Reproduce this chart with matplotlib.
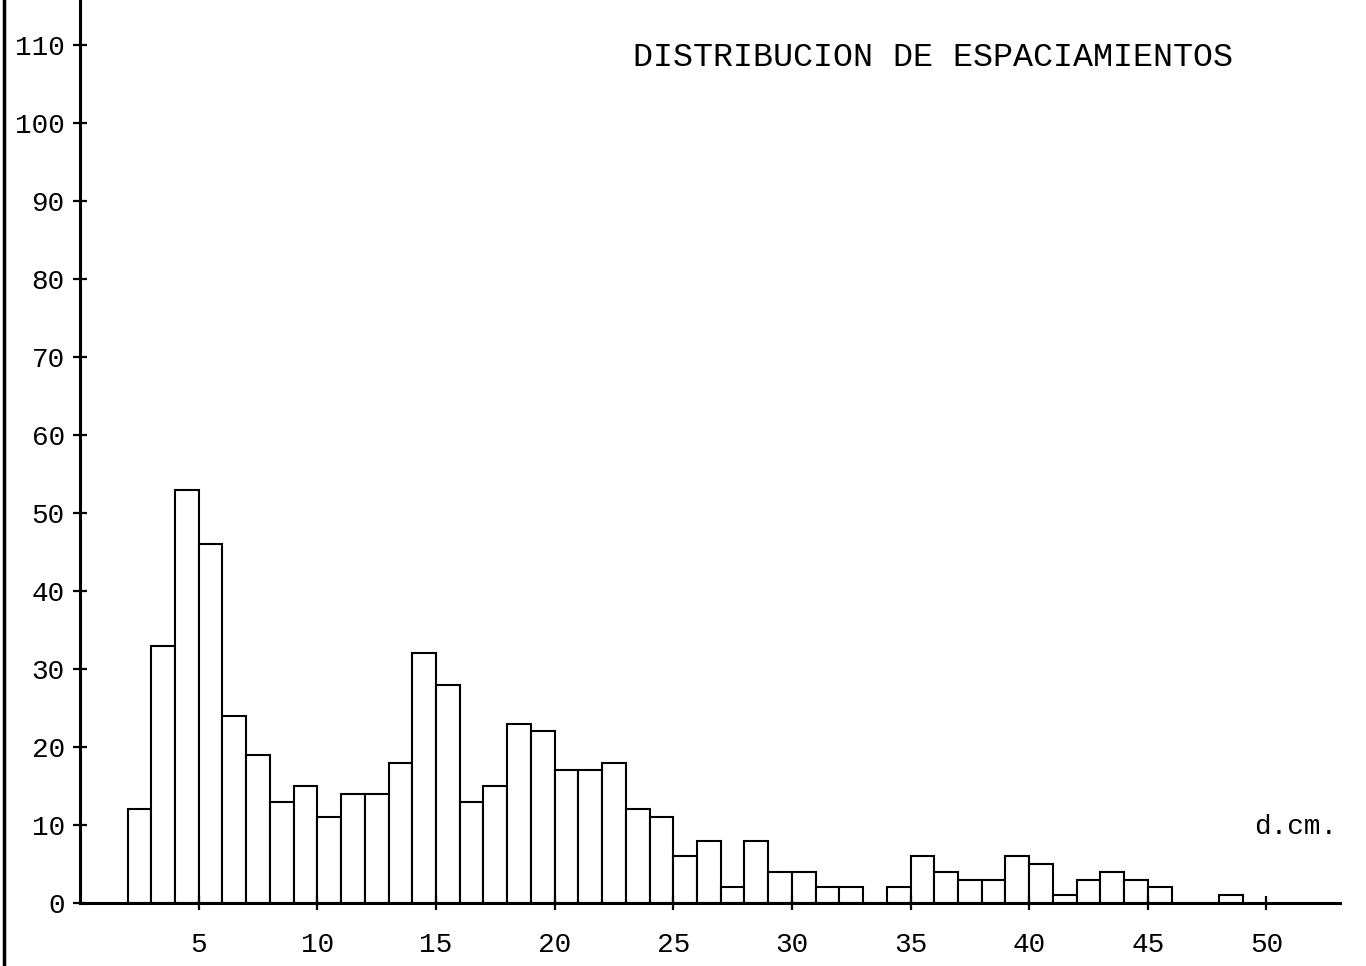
import matplotlib
matplotlib.use("Agg")
import matplotlib.pyplot as plt
from matplotlib.lines import Line2D

# spacing classes (cm), left edge of each 1 cm class, and counts per class
bin_left = list(range(2, 49))
counts = [12, 33, 53, 46, 24, 19, 13, 15, 11, 14,
          14, 18, 32, 28, 13, 15, 23, 22, 17, 17,
          18, 12, 11, 6, 8, 2, 8, 4, 4, 2,
          2, 0, 2, 6, 4, 3, 3, 6, 5, 1,
          3, 4, 3, 2, 0, 0, 1]

x_ticks = [5, 10, 15, 20, 25, 30, 35, 40, 45, 50]
y_ticks = [0, 10, 20, 30, 40, 50, 60, 70, 80, 90, 100, 110]

title = "DISTRIBUCION DE ESPACIAMIENTOS"
unit_label = "d.cm."

plt.rcParams['font.family'] = ['Liberation Mono', 'DejaVu Sans Mono']

fig = plt.figure(figsize=(13.66, 9.66), dpi=100)
ax = fig.add_axes([0.0586, 0.0652, 0.9224, 0.9348])

ax.bar(bin_left, counts, width=1.0, align='edge',
       facecolor='white', edgecolor='black', linewidth=1.5)

ax.set_xlim(0, 53.1)
ax.set_ylim(0, 115.8)

for side in ['top', 'right']:
    ax.spines[side].set_visible(False)
for side in ['left', 'bottom']:
    ax.spines[side].set_linewidth(2.2)

ax.set_xticks(x_ticks)
ax.set_yticks(y_ticks)
ax.tick_params(axis='both', direction='inout', length=10, width=1.6,
               labelsize=20, colors='black')
ax.tick_params(axis='x', pad=16)
ax.tick_params(axis='y', pad=6)

ax.text(0.683, 0.94, title, transform=fig.transFigure, ha='center',
        va='center', fontsize=24)
ax.text(49.5, 9.7, unit_label, ha='left', va='center', fontsize=20)

# scan edge on the left of the page
fig.add_artist(Line2D([0.003, 0.003], [0, 1], transform=fig.transFigure,
                      color='black', linewidth=2.5))

fig.savefig("out.png", dpi=100)
